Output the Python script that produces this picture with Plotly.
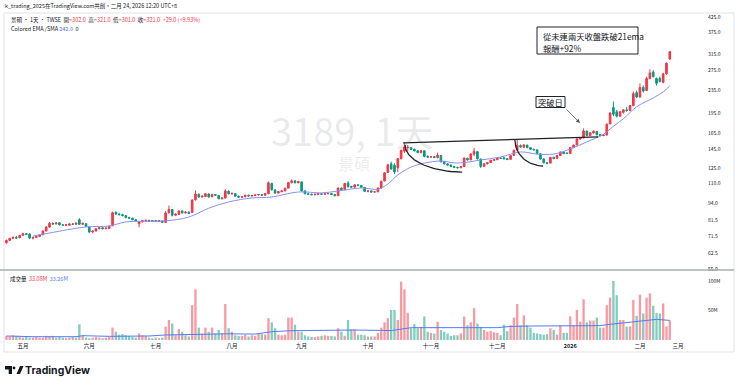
import numpy as np
import plotly.graph_objects as go

# ---------------- data ----------------
month_labels = ['五月', '六月', '七月', '八月', '九月', '十月', '十一月', '十二月', '<b>2026</b>', '二月', '三月']
month_bar_counts = [5, 20, 20, 23, 21, 20, 19, 20, 22, 21, 10]   # Apr(part) ... Feb(part)

opens = [
    68.0, 69.3, 70.5, 71.0, 70.8, 72.2, 73.2, 73.0, 70.6, 71.0,
    71.6, 72.6, 74.8, 77.2, 79.6, 79.2, 80.0, 78.6, 78.4, 78.4,
    79.2, 79.0, 82.0, 79.0, 79.4, 77.2, 74.2, 74.8, 76.2, 76.8,
    76.2, 76.4, 78.0, 87.0, 85.8, 85.4, 84.8, 83.4, 83.0, 82.0,
    79.4, 80.6, 81.4, 81.6, 81.0, 81.4, 80.8, 81.2, 80.2, 86.8,
    89.0, 85.0, 85.6, 88.0, 86.6, 87.2, 87.0, 96.4, 100.8, 98.6,
    99.0, 101.0, 98.8, 100.6, 99.8, 97.2, 97.8, 103.4, 101.2, 101.4,
    99.2, 98.4, 98.8, 100.0, 99.4, 99.8, 100.2, 100.6, 100.0, 101.2,
    110.0, 104.4, 101.8, 103.0, 103.6, 106.0, 110.8, 112.4, 110.6, 111.4,
    103.6, 101.2, 100.8, 100.4, 100.6, 101.2, 100.8, 101.2, 101.4, 100.6,
    99.6, 106.0, 104.6, 110.4, 107.4, 106.8, 108.8, 108.2, 106.6, 103.2,
    103.6, 102.6, 102.8, 106.0, 112.2, 120.2, 129.0, 127.6, 125.0, 134.6,
    143.0, 147.0, 147.4, 145.4, 143.4, 141.2, 143.4, 137.0, 136.2, 136.8,
    135.6, 138.0, 131.2, 129.0, 127.8, 126.2, 125.4, 125.0, 126.2, 135.0,
    133.2, 139.6, 142.4, 134.2, 126.4, 129.0, 130.4, 132.8, 133.4, 135.0,
    135.6, 134.6, 133.8, 138.2, 144.2, 149.6, 147.6, 150.2, 147.2, 145.2,
    144.6, 140.0, 134.2, 130.2, 129.8, 136.0, 134.8, 138.0, 142.0, 140.8,
    140.4, 147.2, 150.4, 158.0, 159.4, 168.4, 162.4, 165.8, 168.0, 163.6,
    162.2, 163.0, 178.4, 204.0, 197.0, 190.0, 196.0, 200.0, 199.0, 207.0,
    230.0, 222.0, 240.0, 234.0, 258.0, 272.0, 258.0, 258.0, 250.0, 268.0,
    302.0]
highs = [
    69.8, 70.8, 71.5, 71.8, 72.5, 73.8, 73.6, 73.4, 71.4, 72.0,
    72.8, 75.2, 77.8, 80.5, 80.2, 80.4, 80.2, 79.2, 79.0, 79.6,
    79.8, 80.2, 83.0, 80.0, 79.6, 77.4, 75.2, 76.6, 77.2, 77.4,
    77.0, 78.2, 87.5, 87.8, 86.6, 86.0, 85.0, 84.0, 83.4, 82.4,
    81.2, 81.8, 82.0, 81.8, 81.8, 81.6, 81.8, 81.4, 88.0, 92.0,
    89.4, 86.4, 88.6, 88.4, 87.8, 87.6, 96.6, 104.0, 101.4, 99.8,
    101.8, 101.6, 101.2, 101.0, 100.2, 98.2, 105.0, 104.0, 102.0, 101.8,
    99.6, 99.2, 100.4, 100.4, 100.2, 100.6, 101.0, 100.8, 101.8, 112.0,
    110.8, 105.0, 103.4, 104.0, 106.4, 111.4, 113.6, 112.8, 112.4, 111.6,
    104.0, 101.8, 101.4, 101.2, 101.6, 101.4, 101.6, 101.8, 101.6, 100.8,
    106.6, 106.4, 110.6, 112.0, 108.0, 109.4, 109.2, 108.6, 106.8, 104.0,
    103.8, 103.4, 106.4, 112.6, 120.6, 129.0, 131.4, 129.6, 135.4, 145.0,
    153.0, 150.4, 148.0, 146.0, 144.4, 144.6, 144.0, 138.2, 137.4, 137.2,
    141.4, 138.4, 131.8, 129.6, 128.2, 126.8, 126.0, 126.8, 136.0, 135.6,
    140.6, 147.0, 143.0, 134.6, 129.6, 131.0, 133.4, 134.0, 135.6, 136.2,
    136.4, 135.2, 138.6, 144.8, 156.4, 151.0, 151.4, 150.6, 147.8, 146.0,
    145.0, 140.6, 135.0, 131.0, 136.6, 136.8, 138.6, 142.6, 142.6, 141.4,
    147.8, 151.0, 158.6, 160.4, 172.0, 169.0, 166.6, 169.0, 168.4, 164.2,
    164.0, 179.0, 196.0, 214.0, 200.0, 198.0, 201.0, 205.0, 208.0, 232.0,
    234.0, 248.0, 244.0, 262.0, 278.0, 276.0, 260.0, 262.0, 270.0, 294.0,
    321.0]
lows = [
    67.5, 69.0, 70.0, 70.2, 70.5, 72.0, 72.4, 70.0, 69.8, 70.6,
    71.2, 72.4, 74.5, 76.8, 78.8, 79.0, 78.2, 78.0, 77.8, 78.2,
    78.6, 78.8, 78.6, 78.6, 77.2, 73.5, 73.4, 74.6, 75.8, 75.8,
    75.8, 76.2, 78.0, 85.2, 84.8, 84.2, 83.0, 82.6, 81.6, 80.6,
    77.0, 80.2, 80.8, 80.6, 80.6, 80.6, 80.6, 79.8, 80.0, 86.0,
    84.2, 84.4, 85.2, 86.2, 86.2, 85.8, 86.8, 95.8, 98.0, 98.0,
    98.6, 98.0, 98.4, 99.6, 96.8, 96.6, 97.4, 100.6, 100.4, 98.8,
    98.0, 97.8, 98.4, 99.0, 98.8, 99.4, 99.8, 99.6, 99.8, 101.0,
    103.6, 101.2, 101.4, 102.4, 103.2, 105.8, 110.0, 110.2, 110.2, 103.0,
    100.8, 100.4, 100.0, 100.0, 100.2, 100.4, 100.6, 100.8, 100.4, 99.2,
    99.2, 104.0, 104.4, 106.4, 106.2, 106.4, 107.8, 106.2, 102.6, 102.4,
    102.2, 102.0, 102.6, 105.8, 112.0, 119.8, 123.0, 118.8, 120.6, 133.8,
    141.0, 143.4, 144.4, 142.6, 140.6, 140.8, 136.0, 135.4, 135.6, 135.2,
    135.2, 130.6, 128.4, 127.2, 125.6, 124.6, 124.2, 124.6, 126.0, 132.4,
    133.0, 137.4, 133.6, 124.8, 126.0, 128.4, 130.0, 132.2, 133.0, 134.2,
    134.0, 133.0, 133.4, 138.0, 143.8, 147.0, 147.0, 146.4, 144.6, 143.8,
    139.4, 133.6, 129.4, 128.6, 129.4, 134.0, 134.4, 137.6, 139.6, 139.8,
    140.0, 146.6, 150.0, 156.6, 158.6, 161.6, 161.8, 165.2, 162.6, 161.4,
    161.6, 162.6, 178.0, 190.0, 188.0, 189.0, 194.0, 197.0, 198.0, 206.0,
    220.0, 221.0, 230.0, 233.0, 256.0, 260.0, 244.0, 250.0, 248.0, 266.0,
    301.0]
closes = [
    69.3, 70.5, 71.0, 70.6, 72.2, 73.2, 72.8, 70.6, 71.0, 71.6,
    72.4, 74.8, 77.2, 79.6, 79.2, 79.8, 78.6, 78.4, 78.6, 79.2,
    79.0, 79.8, 79.0, 79.6, 77.6, 74.2, 74.8, 76.2, 76.8, 76.2,
    76.6, 77.8, 86.8, 85.8, 85.4, 84.8, 83.4, 83.0, 82.0, 81.0,
    80.6, 81.4, 81.6, 81.0, 81.4, 80.8, 81.4, 80.2, 86.6, 89.2,
    85.0, 85.8, 88.0, 86.6, 87.2, 86.2, 96.2, 101.0, 98.6, 99.2,
    101.2, 98.6, 100.6, 100.0, 97.2, 97.8, 103.6, 101.2, 101.6, 99.2,
    98.4, 98.8, 100.0, 99.4, 99.8, 100.2, 100.6, 100.0, 101.4, 110.6,
    104.6, 101.8, 103.0, 103.6, 105.8, 110.8, 112.4, 110.6, 111.8, 103.6,
    101.2, 100.8, 100.4, 100.8, 101.2, 100.8, 101.2, 101.4, 100.6, 99.6,
    106.0, 104.6, 110.0, 107.2, 106.8, 108.8, 108.2, 106.6, 103.2, 103.6,
    102.6, 102.8, 106.0, 112.0, 120.0, 128.0, 123.8, 120.8, 134.6, 143.8,
    148.0, 147.6, 145.0, 143.4, 141.4, 143.6, 137.0, 136.2, 136.8, 135.8,
    138.6, 131.2, 129.0, 127.8, 126.2, 125.4, 125.0, 126.2, 135.2, 133.2,
    139.8, 142.8, 134.4, 126.4, 129.0, 130.4, 132.8, 133.4, 135.0, 134.8,
    134.4, 133.6, 138.0, 144.0, 150.0, 148.0, 150.4, 147.2, 145.2, 144.6,
    140.0, 134.2, 130.2, 129.6, 136.0, 134.6, 138.0, 142.0, 140.2, 140.4,
    147.2, 150.2, 158.0, 159.2, 168.6, 162.4, 166.0, 168.2, 163.4, 162.2,
    163.2, 178.0, 195.0, 193.0, 190.0, 197.0, 200.0, 199.0, 207.0, 228.0,
    222.0, 240.0, 233.0, 258.0, 270.0, 262.0, 248.0, 252.0, 268.0, 292.0,
    321.0]
volumes_m = [
    7, 6, 8, 7, 6, 4, 5, 4, 4, 5,
    4, 4, 7, 6, 7, 4, 5, 4, 3, 4,
    5, 4, 26.5, 8, 4, 3, 4, 5, 4, 3,
    4, 5, 21, 14, 9, 10, 8, 7, 5, 4,
    11, 8, 7, 4, 3, 4, 3, 4, 22.6, 34,
    28, 8, 18.6, 14, 8, 6, 59, 86, 21, 11,
    21, 14, 21, 11, 17, 11, 61, 20, 14, 8,
    7, 7, 9, 6, 8, 7, 11, 10, 9, 37,
    30, 20, 9, 8, 9, 38, 38, 26, 14, 14,
    8, 6, 5, 5, 6, 7, 8, 7, 7, 6,
    20, 14, 7, 34, 18, 18, 9, 9, 8, 6,
    6, 6, 12, 21, 30, 37, 51, 51, 34, 99,
    86, 46, 20, 27, 20, 22, 40, 14, 12, 11,
    31, 17, 14, 11, 7, 8, 8, 11, 40, 25,
    30, 54, 28, 22, 17, 14, 15, 13, 12, 8,
    26, 15, 25, 38, 61, 25, 42, 25, 21, 12,
    11, 10, 9, 10, 20, 17, 9, 25, 12, 12,
    40, 25, 51, 31, 69, 30, 33, 33, 38, 21,
    21, 59, 72, 100, 76, 34, 34, 23, 23, 68,
    41, 77, 45, 72, 79, 58, 46, 45, 62, 23,
    33.08]

# EMA line (at sample bars)
ema_idx = [8, 13, 24, 31, 36, 48, 55, 61, 67, 74, 80, 88, 95, 100, 107, 112, 115, 118,
           122, 126, 131, 136, 143, 149, 155, 160, 165, 170, 175, 180, 183, 186, 190, 195, 198, 200]
ema_val = [71.8, 73.6, 77.3, 77.9, 80.5, 81.2, 83.8, 90.0, 94.7, 97.8, 98.6, 102.7, 101.9, 103.5,
           106.1, 105.0, 109.6, 117.9, 125.7, 129.8, 132.0, 129.8, 133.1, 136.4, 142.1, 139.7,
           139.7, 145.6, 154.2, 164.0, 175.0, 186.0, 205.0, 220.3, 231.3, 243.0]
# volume moving average (millions)
vma_idx = [0, 8, 21, 23, 31, 43, 48, 56, 67, 75, 80, 86, 98, 105, 116, 119, 122, 148, 152,
           158, 179, 182, 189, 196, 200]
vma_val = [6.8, 5.6, 5.6, 7.3, 6.2, 6.8, 8.5, 9.6, 10.5, 10.0, 14.1, 15.8, 16.5, 16.9, 16.0,
           18.1, 20.9, 20.9, 23.0, 23.7, 24.3, 26.6, 31.1, 35.0, 33.26]

price_ticks = [55, 62.5, 71.5, 81.5, 94, 110, 125, 145, 165, 195, 235, 275, 315, 375, 425]
vol_ticks = [50, 100]

# drawings (bar index, price)
trend_pts = [(119.6, 152.9), (178.4, 160.5)]
arc_pts = [((120.2, 150.4), (137.4, 120.7)), ((153.3, 156.6), (161.8, 126.8))]

# ---------------- layout geometry ----------------
W, H = 740, 383
ML, MR, MT, MB = 0, 45, 12, 43
PW, PH = W - ML - MR, H - MT - MB
BAR_PX, FIRST_PX = 3.317, 6.4


def px(x):
    return (x - ML) / PW


def py(y):
    return (H - MB - y) / PH


RED, GREEN = '#f23645', '#089981'
RED_V, GREEN_V = 'rgba(242,54,69,0.5)', 'rgba(8,153,129,0.5)'
TXT = '#131722'
FONT = 'Noto Sans CJK TC, Noto Sans, sans-serif'

n = len(closes)
idx = list(range(n))
starts = np.cumsum([0] + month_bar_counts[:-1])
tickvals = list(starts[1:]) + [n + 1.5]

fig = go.Figure()
fig.add_trace(go.Candlestick(
    x=idx, open=opens, high=highs, low=lows, close=closes,
    increasing=dict(line=dict(color=RED, width=1), fillcolor=RED),
    decreasing=dict(line=dict(color=GREEN, width=1), fillcolor=GREEN),
    whiskerwidth=0, xaxis='x', yaxis='y', hoverinfo='skip', showlegend=False))
fig.add_trace(go.Scatter(x=ema_idx, y=ema_val, mode='lines', line=dict(color='#8a90f0', width=1, shape='spline'),
                         xaxis='x', yaxis='y', hoverinfo='skip', showlegend=False))
# drawings
fig.add_trace(go.Scatter(x=[p[0] for p in trend_pts], y=[p[1] for p in trend_pts], mode='lines',
                         line=dict(color='#1e222d', width=1.3), xaxis='x', yaxis='y', hoverinfo='skip',
                         showlegend=False))
t = np.linspace(0, np.pi / 2, 40)
for (x0, y0), (x1, y1) in arc_pts:
    ax_ = x1 - (x1 - x0) * np.cos(t)
    ay_ = np.exp(np.log(y0) + (np.log(y1) - np.log(y0)) * np.sin(t))
    fig.add_trace(go.Scatter(x=ax_, y=ay_, mode='lines', line=dict(color='#1e222d', width=1.3),
                             xaxis='x', yaxis='y', hoverinfo='skip', showlegend=False))

vol_colors = [RED_V if c >= o else GREEN_V for o, c in zip(opens, closes)]
fig.add_trace(go.Bar(x=idx, y=volumes_m, marker=dict(color=vol_colors, line=dict(width=0)), width=0.7,
                     xaxis='x', yaxis='y2', hoverinfo='skip', showlegend=False))
fig.add_trace(go.Scatter(x=vma_idx, y=vma_val, mode='lines', line=dict(color='#4f7df5', width=1),
                         xaxis='x', yaxis='y2', hoverinfo='skip', showlegend=False))

x0r = -FIRST_PX / BAR_PX
fig.update_layout(
    width=W, height=H, margin=dict(l=ML, r=MR, t=MT, b=MB),
    paper_bgcolor='white', plot_bgcolor='white', hovermode=False, showlegend=False,
    font=dict(family=FONT, color=TXT),
    xaxis=dict(domain=[0, 1], range=[x0r, x0r + PW / BAR_PX], anchor='y2',
               tickvals=tickvals, ticktext=month_labels, tickfont=dict(size=5.5, color=TXT),
               showgrid=False, zeroline=False, showline=False, ticks='', ticklabelstandoff=1,
               rangeslider=dict(visible=False)),
    yaxis=dict(domain=[py(270), 1], type='log',
               range=[np.log10(54.5), np.log10(442.6)], side='right', anchor='x',
               tickvals=price_ticks, ticktext=[f'{v:.1f}' for v in price_ticks],
               tickfont=dict(size=5, color=TXT), showgrid=False, zeroline=False, showline=False,
               ticks='', ticklabelstandoff=12),
    yaxis2=dict(domain=[0, py(272)], range=[0, 115.3], side='right', anchor='x',
                tickvals=vol_ticks, ticktext=[f'{v}M' for v in vol_ticks],
                tickfont=dict(size=5, color=TXT), showgrid=False, zeroline=False, showline=False,
                ticks='', ticklabelstandoff=12),
    bargap=0.3,
)

shapes = [
    dict(type='rect', xref='paper', yref='paper', x0=px(4), x1=px(734), y0=py(352), y1=py(13),
         line=dict(color='#e0e3eb', width=1)),
    dict(type='line', xref='paper', yref='paper', x0=px(0), x1=px(734), y0=py(270), y1=py(270),
         line=dict(color='#a9acb5', width=1.5)),
    dict(type='rect', xref='paper', yref='paper', x0=px(537), x1=px(638), y0=py(54), y1=py(27),
         line=dict(color='#1e222d', width=1), fillcolor='white'),
    dict(type='rect', xref='paper', yref='paper', x0=px(536), x1=px(565), y0=py(107.5), y1=py(96.5),
         line=dict(color='#1e222d', width=1), fillcolor='white'),
    # TradingView logo
    dict(type='rect', xref='paper', yref='paper', x0=px(5), x1=px(12), y0=py(369.5), y1=py(366),
         line=dict(width=0), fillcolor=TXT),
    dict(type='rect', xref='paper', yref='paper', x0=px(8.7), x1=px(12), y0=py(374), y1=py(366),
         line=dict(width=0), fillcolor=TXT),
    dict(type='circle', xref='paper', yref='paper', x0=px(12.6), x1=px(15.4), y0=py(369.4), y1=py(366.6),
         line=dict(width=0), fillcolor=TXT),
    dict(type='path', xref='paper', yref='paper',
         path=f'M {px(16.5)} {py(374)} L {px(20)} {py(374)} L {px(23.5)} {py(366)} L {px(20)} {py(366)} Z',
         line=dict(width=0), fillcolor=TXT),
]
fig.update_layout(shapes=shapes)

R = f"<span style='color:{RED}'>"
annos = [
    dict(text='k_trading_2025在TradingView.com共創，二月 24, 2026 12:20 UTC+8', x=px(3), y=py(6),
         font=dict(size=5.5)),
    dict(text=f'景碩 · 1天 · TWSE  開{R}=302.0</span>  高{R}=321.0</span>  低{R}=301.0</span>  '
              f'收{R}=321.0</span>  {R}+29.0 (+9.93%)</span>', x=px(9), y=py(20), font=dict(size=5.5)),
    dict(text="Colored EMA /SMA <span style='color:#4f6ff0'>242.0</span>  0", x=px(9), y=py(29.5),
         font=dict(size=5.5)),
    dict(text=f"成交量  {R}33.08M</span>  <span style='color:#4f7df5'>33.26M</span>", x=px(8), y=py(279),
         font=dict(size=5.5)),
    dict(text='從未連兩天收盤跌破21ema', x=px(541), y=py(35.5), font=dict(size=8.3)),
    dict(text='報酬+92%', x=px(541), y=py(48), font=dict(size=8.3)),
    dict(text='<b>TradingView</b>', x=px(23), y=py(370), font=dict(size=10.5, family='Inter, Noto Sans')),
]
annotations = [dict(a, xref='paper', yref='paper', xanchor='left', yanchor='middle', showarrow=False)
               for a in annos]
annotations += [
    dict(text='3189, 1天', x=px(352), y=py(129), xref='paper', yref='paper', xanchor='center',
         yanchor='middle', showarrow=False, font=dict(size=38, color='rgba(120,123,134,0.16)')),
    dict(text='景碩', x=px(354), y=py(163), xref='paper', yref='paper', xanchor='center',
         yanchor='middle', showarrow=False, font=dict(size=16, color='rgba(120,123,134,0.16)')),
    dict(text='突破日', x=px(550.5), y=py(102), xref='paper', yref='paper', xanchor='center',
         yanchor='middle', showarrow=False, font=dict(size=8.3)),
    dict(text='', x=px(580), y=py(123), xref='paper', yref='paper', showarrow=True,
         ax=-15, ay=-15, arrowhead=2, arrowsize=1, arrowwidth=0.8, arrowcolor='#50535e'),
]
fig.update_layout(annotations=annotations)

fig.write_html('out.html', config={'displayModeBar': False},
               post_script="document.body.style.margin='0px';")
